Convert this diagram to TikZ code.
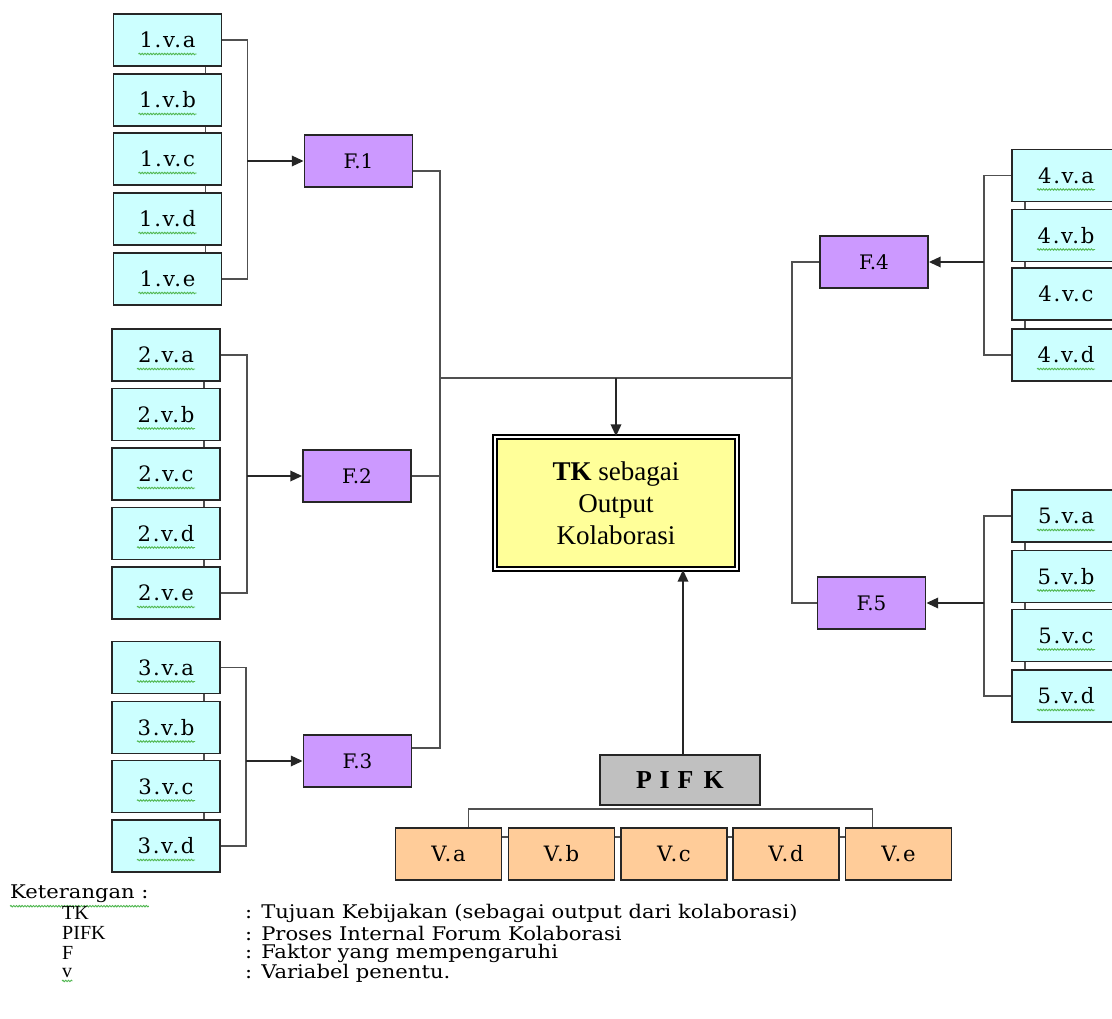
\documentclass[tikz,border=0pt]{standalone}
\usepackage{fontspec}
\usepackage{graphicx}
\setmainfont{Liberation Serif}
\newfontfamily\labf[LetterSpace=8]{DejaVu Serif}
\newfontfamily\facf{DejaVu Serif}
\newfontfamily\legf{DejaVu Serif}
\usetikzlibrary{arrows.meta,calc,decorations.pathmorphing}
\newdimen\pxu \pxu=0.85pt
\definecolor{cyanbox}{HTML}{CCFFFF}
\definecolor{violetbox}{HTML}{CC99FF}
\definecolor{yellowbox}{HTML}{FFFF99}
\definecolor{graybox}{HTML}{C0C0C0}
\definecolor{peachbox}{HTML}{FFCC99}
\definecolor{linegray}{HTML}{505050}
\definecolor{wavegreen}{HTML}{52B852}
\newcommand{\lowtxt}[1]{\raisebox{-2.5\pxu}{#1}}
\newcommand{\wideleg}[1]{\scalebox{1.12}[1]{#1}}
\tikzset{
  box/.style={draw=black!85, line width=1.6pt, inner sep=0pt, align=center},
  vbox/.style={box, fill=cyanbox, minimum width=108\pxu, minimum height=52\pxu, font=\labf\fontsize{18}{21}\selectfont},
  fbox/.style={box, fill=violetbox, minimum width=108\pxu, minimum height=52\pxu, font=\facf\fontsize{17}{20}\selectfont},
  pbox/.style={box, fill=peachbox, minimum width=106\pxu, minimum height=52\pxu, font=\labf\fontsize{18}{20}\selectfont},
  conn/.style={draw=linegray, line width=1.3pt},
  arr/.style={draw=black!85, line width=1.3pt, -{Triangle[length=10pt,width=9pt]}},
  stub/.style={draw=linegray, line width=1.6pt},
  wave/.style={draw=wavegreen, line width=0.8pt, decorate, decoration={snake, amplitude=0.6pt, segment length=2.4pt}},
  legl/.style={anchor=west, inner sep=0pt, font=\fontsize{17}{18}\selectfont},
  legd/.style={anchor=west, inner sep=0pt, font=\legf\fontsize{16}{18}\selectfont},
}
\begin{document}
\begin{tikzpicture}[x=0.85pt,y=-0.85pt]
\useasboundingbox (0,0) rectangle (1112,1019);
\clip (0,0) rectangle (1112,1019);
\fill[white] (0,0) rectangle (1112,1019);

% left groups
\foreach \l/\y in {a/40,b/100,c/159,d/219,e/279}{\node[vbox] (g1\l) at (167.5,\y) {\lowtxt{1.v.\l}};}
\foreach \l/\y in {a/355,b/414.5,c/474,d/533.5,e/593}{\node[vbox] (g2\l) at (166,\y) {\lowtxt{2.v.\l}};}
\foreach \l/\y in {a/667.5,b/727.5,c/786.5,d/846}{\node[vbox] (g3\l) at (166,\y) {\lowtxt{3.v.\l}};}
% right groups
\foreach \l/\y in {a/175.5,b/235.5,c/294,d/355}{\node[vbox] (g4\l) at (1066,\y) {\lowtxt{4.v.\l}};}
\foreach \l/\y in {a/516,b/576.5,c/635.5,d/696}{\node[vbox] (g5\l) at (1066,\y) {\lowtxt{5.v.\l}};}

% stubs between stacked boxes
\foreach \p/\q in {g1a/g1b,g1b/g1c,g1c/g1d,g1d/g1e,g2a/g2b,g2b/g2c,g2c/g2d,g2d/g2e,g3a/g3b,g3b/g3c,g3c/g3d}
  {\draw[stub] ([xshift=38\pxu]\p.south) -- ([xshift=38\pxu]\q.north);}
\foreach \p/\q in {g4a/g4b,g4b/g4c,g4c/g4d,g5a/g5b,g5b/g5c,g5c/g5d}
  {\draw[stub] ([xshift=-41\pxu]\p.south) -- ([xshift=-41\pxu]\q.north);}

% spell-check waves
\foreach \n in {g1a,g1b,g1c,g1d,g1e,g2a,g2b,g2c,g2d,g2e,g3a,g3b,g3c,g3d,g4a,g4b,g4d,g5a,g5b,g5c,g5d}
  {\draw[wave] ($(\n.center)+(-29,14)$) -- ($(\n.center)+(29,14)$);}

% factor boxes
\node[fbox] (F1) at (358.5,161) {F.1};
\node[fbox] (F2) at (357,476) {F.2};
\node[fbox] (F3) at (357.5,761) {F.3};
\node[fbox] (F4) at (874,262) {F.4};
\node[fbox] (F5) at (871.5,603) {F.5};

% brackets into factors
\draw[conn] (g1a.east) -- ++(25,0) coordinate (k1) |- (g1e.east);
\draw[arr] (k1 |- F1.west) -- (F1.west);
\draw[conn] (g2a.east) -- ++(26,0) coordinate (k2) |- (g2e.east);
\draw[arr] (k2 |- F2.west) -- (F2.west);
\draw[conn] (g3a.east) -- ++(25,0) coordinate (k3) |- (g3d.east);
\draw[arr] (k3 |- F3.west) -- (F3.west);
\draw[conn] (g4a.west) -- ++(-27,0) coordinate (k4) |- (g4d.west);
\draw[arr] (k4 |- F4.east) -- (F4.east);
\draw[conn] (g5a.west) -- ++(-27,0) coordinate (k5) |- (g5d.west);
\draw[arr] (k5 |- F5.east) -- (F5.east);

% central box
\node[draw=black, line width=1.5pt, double=white, double distance=2.2pt, fill=yellowbox,
      minimum width=242\pxu, minimum height=132\pxu, align=center,
      font=\fontsize{23}{27}\selectfont] (TK) at (616,503) {\textbf{TK} sebagai\\Output\\Kolaborasi};

% spine connectors
\coordinate (sL1) at (440,171);
\coordinate (sL3) at (440,748);
\coordinate (jL) at (440,378);
\coordinate (jR) at (792,378);
\coordinate (jT) at (616,378);
\coordinate (sR4) at (792,262);
\coordinate (sR5) at (792,603);
\draw[conn] (F1.east |- sL1) -- (sL1) -- (sL3) -- (F3.east |- sL3);
\draw[conn] (F2.east) -- (F2.east -| sL1);
\draw[conn] (jL) -- (jR);
\draw[conn] (F4.west) -- (sR4) -- (sR5) -- (F5.west);
\draw[arr] (jT) -- (TK.north);

% PIFK
\node[box, fill=graybox, minimum width=160\pxu, minimum height=50\pxu,
      font=\bfseries\fontsize{22}{24}\selectfont] (PIFK) at (680,780) {P\hspace{0.3em}I\hspace{0.3em}F\hspace{0.4em}K};
\coordinate (pu) at ($(PIFK.north)+(3,0)$);
\draw[arr] (pu) -- (pu |- TK.south);

% V boxes
\node[pbox] (Va) at (448.5,854) {V.a};
\node[pbox] (Vb) at (561.5,854) {V.b};
\node[pbox] (Vc) at (674,854) {V.c};
\node[pbox] (Vd) at (786,854) {V.d};
\node[pbox] (Ve) at (898.5,854) {V.e};
\foreach \p/\q in {Va/Vb,Vb/Vc,Vc/Vd,Vd/Ve}
  {\draw[stub] ([yshift=17\pxu]\p.east) -- ([yshift=17\pxu]\q.west);}
\draw[conn] ([xshift=20\pxu]Va.north) -- ++(0,-18) coordinate (vb) -| ([xshift=-26\pxu]Ve.north);

% legend
\node[legd] (ket) at (10,894) {\wideleg{Keterangan :}};
\draw[wave] ($(ket.south west)+(0,3)$) -- ($(ket.south east)+(0,3)$);
\node[legl] (lTK) at (62,913) {TK};
\node[legl] (lPI) at (62,933) {PIFK};
\node[legl] (lF) at (62,953) {F};
\node[legl] (lv) at (62,973) {v};
\draw[wave] ($(lv.south west)+(0,3)$) -- ($(lv.south east)+(0,3)$);
\node[legd] (dTK) at (245,913) {\wideleg{: Tujuan Kebijakan (sebagai output dari kolaborasi)}};
\node[legd] (dPI) at (245,933) {\wideleg{: Proses Internal Forum Kolaborasi}};
\node[legd] (dF) at (245,953) {\wideleg{: Faktor yang mempengaruhi}};
\node[legd] (dv) at (245,973) {\wideleg{: Variabel penentu.}};
\end{tikzpicture}
\end{document}
